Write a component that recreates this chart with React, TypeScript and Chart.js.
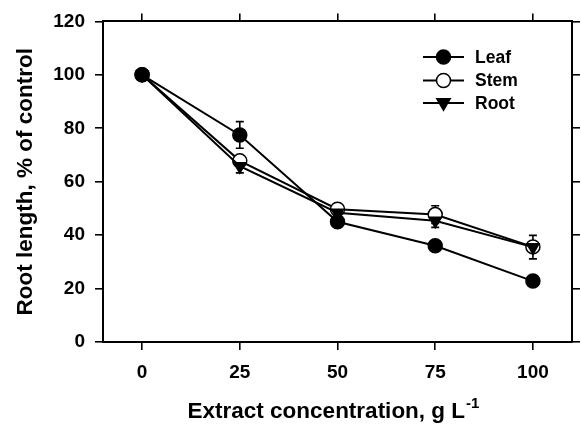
import React, { useEffect, useRef } from "react";
import { Chart, registerables } from "chart.js";

Chart.register(...registerables);

// ---- Data ----
const concentrations = [0, 25, 50, 75, 100];
const xTickValues = [0, 25, 50, 75, 100];
const yTickStep = 20;

const leafValues = [100, 77.5, 45, 36, 22.8];
const leafErrors = [0.8, 5, 1, 1, 1];
const stemValues = [100, 67.8, 49.7, 47.7, 35.6];
const stemErrors = [0.8, 2, 1.5, 3.3, 2];
const rootValues = [100, 65.8, 48.4, 45.4, 35.5];
const rootErrors = [0.8, 2.5, 1, 2.5, 4.4];

const seriesNames = ["Leaf", "Stem", "Root"];
const xTitle = "Extract concentration, g L";
const xTitleSup = "-1";
const yTitle = "Root length, % of control";

const FONT = "'Liberation Sans', Arial, Helvetica, sans-serif";

const errorBarPlugin = {
  id: "errorBars",
  beforeDatasetsDraw(chart: any) {
    const { ctx } = chart;
    const xs = chart.scales.x;
    const ys = chart.scales.y;
    const errs = [leafErrors, stemErrors, rootErrors];
    ctx.save();
    ctx.strokeStyle = "#000";
    ctx.lineWidth = 1.6;
    chart.data.datasets.forEach((ds: any, i: number) => {
      ds.data.forEach((p: any, j: number) => {
        const e = errs[i][j];
        const px = xs.getPixelForValue(p.x);
        const yTop = ys.getPixelForValue(p.y + e);
        const yBot = ys.getPixelForValue(p.y - e);
        ctx.beginPath();
        ctx.moveTo(px, yTop);
        ctx.lineTo(px, yBot);
        ctx.moveTo(px - 4, yTop);
        ctx.lineTo(px + 4, yTop);
        ctx.moveTo(px - 4, yBot);
        ctx.lineTo(px + 4, yBot);
        ctx.stroke();
      });
    });
    ctx.restore();
  },
};

const decorPlugin = {
  id: "decor",
  afterDraw(chart: any) {
    const { ctx, chartArea } = chart;
    ctx.save();
    ctx.fillStyle = "#000";
    ctx.strokeStyle = "#000";

    // Legend
    const rowsY = [57, 80.5, 103];
    const lineX0 = 423;
    const lineX1 = 464;
    const markX = 443.5;
    seriesNames.forEach((name, i) => {
      const y = rowsY[i];
      ctx.lineWidth = 2;
      ctx.beginPath();
      ctx.moveTo(lineX0, y);
      ctx.lineTo(lineX1, y);
      ctx.stroke();
      ctx.lineWidth = 1.5;
      if (i === 0) {
        ctx.beginPath();
        ctx.arc(markX, y, 7, 0, Math.PI * 2);
        ctx.fillStyle = "#000";
        ctx.fill();
        ctx.stroke();
      } else if (i === 1) {
        ctx.beginPath();
        ctx.arc(markX, y, 7, 0, Math.PI * 2);
        ctx.fillStyle = "#fff";
        ctx.fill();
        ctx.stroke();
      } else {
        const r = 7;
        ctx.beginPath();
        ctx.moveTo(markX - r * 0.95, y - r * 0.6);
        ctx.lineTo(markX + r * 0.95, y - r * 0.6);
        ctx.lineTo(markX, y + r * 1.05);
        ctx.closePath();
        ctx.fillStyle = "#000";
        ctx.fill();
        ctx.stroke();
      }
      ctx.fillStyle = "#000";
      ctx.font = `bold 17.5px ${FONT}`;
      ctx.textAlign = "left";
      ctx.textBaseline = "middle";
      ctx.fillText(name, 475, y + 1);
    });

    // X title with superscript
    ctx.font = `bold 22.5px ${FONT}`;
    const mainW = ctx.measureText(xTitle).width;
    ctx.font = `bold 15px ${FONT}`;
    const supW = ctx.measureText(xTitleSup).width;
    const cx = (chartArea.left + chartArea.right) / 2 - 4;
    const startX = cx - (mainW + supW + 1) / 2;
    ctx.textAlign = "left";
    ctx.textBaseline = "alphabetic";
    ctx.font = `bold 22.5px ${FONT}`;
    ctx.fillText(xTitle, startX, 418);
    ctx.font = `bold 15px ${FONT}`;
    ctx.fillText(xTitleSup, startX + mainW + 1, 408);

    // Y title
    ctx.save();
    ctx.translate(32, (chartArea.top + chartArea.bottom) / 2);
    ctx.rotate(-Math.PI / 2);
    ctx.font = `bold 22.5px ${FONT}`;
    ctx.textAlign = "center";
    ctx.textBaseline = "alphabetic";
    ctx.fillText(yTitle, 0, 0);
    ctx.restore();

    ctx.restore();
  },
};

function toPoints(values: number[]) {
  return concentrations.map((x, i) => ({ x, y: values[i] }));
}

export default function App() {
  const canvasRef = useRef<HTMLCanvasElement | null>(null);

  useEffect(() => {
    if (!canvasRef.current) return;
    const tickFont = { family: FONT, size: 19, weight: "bold" as const };
    const gridCommon = {
      drawOnChartArea: false,
      drawTicks: true,
      tickLength: 8,
      color: "#000",
      lineWidth: 1.6,
    };
    const borderCommon = { display: true, color: "#000", width: 2 };
    const setXTicks = (scale: any) => {
      scale.ticks = xTickValues.map((v) => ({ value: v }));
    };

    const chart = new Chart(canvasRef.current, {
      type: "line",
      data: {
        datasets: [
          {
            label: seriesNames[0],
            data: toPoints(leafValues),
            order: 0,
            borderColor: "#000",
            borderWidth: 2,
            backgroundColor: "#000",
            pointStyle: "circle",
            pointRadius: 7,
            pointBorderWidth: 1.5,
            pointBackgroundColor: "#000",
            pointBorderColor: "#000",
          },
          {
            label: seriesNames[1],
            data: toPoints(stemValues),
            order: 2,
            borderColor: "#000",
            borderWidth: 2,
            backgroundColor: "#fff",
            pointStyle: "circle",
            pointRadius: 7,
            pointBorderWidth: 1.5,
            pointBackgroundColor: "#fff",
            pointBorderColor: "#000",
          },
          {
            label: seriesNames[2],
            data: toPoints(rootValues),
            order: 1,
            borderColor: "#000",
            borderWidth: 2,
            backgroundColor: "#000",
            pointStyle: "triangle",
            pointRotation: 180,
            pointRadius: 7,
            pointBorderWidth: 1.5,
            pointBackgroundColor: "#000",
            pointBorderColor: "#000",
          },
        ],
      },
      options: {
        responsive: false,
        maintainAspectRatio: false,
        animation: false,
        devicePixelRatio: 1,
        layout: { padding: 0 },
        plugins: {
          legend: { display: false },
          tooltip: { enabled: false },
          title: { display: false },
        },
        scales: {
          x: {
            type: "linear",
            position: "bottom",
            min: -10,
            max: 110,
            afterBuildTicks: setXTicks,
            afterFit: (s: any) => {
              s.height = 88;
            },
            ticks: {
              color: "#000",
              font: tickFont,
              padding: 11,
              maxRotation: 0,
              callback: (v: any) => String(v),
            },
            grid: gridCommon,
            border: borderCommon,
          },
          x2: {
            type: "linear",
            position: "top",
            min: -10,
            max: 110,
            afterBuildTicks: setXTicks,
            afterFit: (s: any) => {
              s.height = 15;
            },
            ticks: { display: false },
            grid: gridCommon,
            border: borderCommon,
          },
          y: {
            type: "linear",
            position: "left",
            min: 0,
            max: 120,
            afterFit: (s: any) => {
              s.width = 103;
            },
            ticks: {
              stepSize: yTickStep,
              color: "#000",
              font: tickFont,
              padding: 10,
            },
            grid: gridCommon,
            border: borderCommon,
          },
          y2: {
            type: "linear",
            position: "right",
            min: 0,
            max: 120,
            afterFit: (s: any) => {
              s.width = 9;
            },
            ticks: { display: false, stepSize: yTickStep },
            grid: gridCommon,
            border: borderCommon,
          },
        },
      },
      plugins: [errorBarPlugin, decorPlugin],
    } as any);

    return () => chart.destroy();
  }, []);

  return (
    <div
      style={{
        position: "fixed",
        left: 0,
        top: 0,
        width: 581,
        height: 430,
        background: "#fff",
      }}
    >
      <canvas ref={canvasRef} width={581} height={430} />
    </div>
  );
}
